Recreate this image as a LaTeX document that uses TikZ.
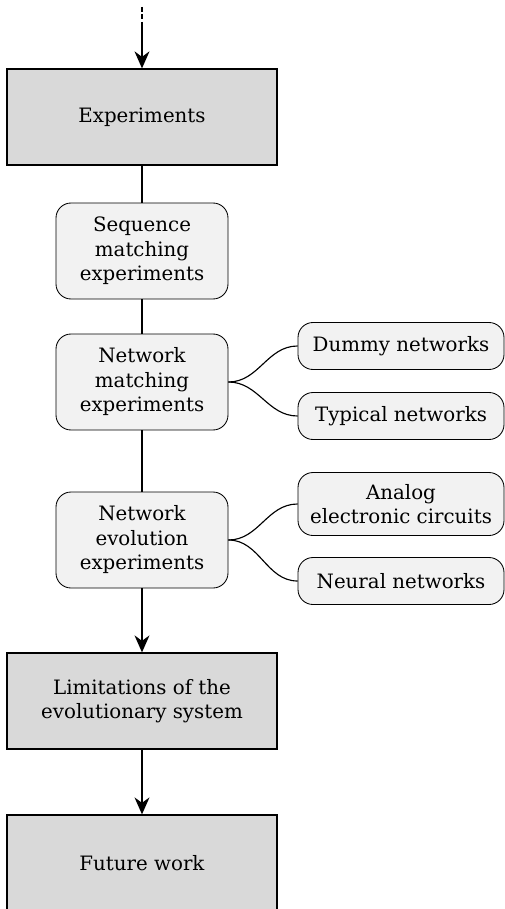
\documentclass[tikz,border=0pt]{standalone}
\usepackage{fontspec}
\setmainfont{DejaVu Serif}
\usetikzlibrary{arrows.meta}
\definecolor{boxgray}{HTML}{D9D9D9}
\definecolor{subgray}{HTML}{F2F2F2}
\begin{document}
\begin{tikzpicture}[x=1pt,y=-1pt,
    every node/.style={align=center,font=\fontsize{19.8}{24.5}\selectfont},
    mainbox/.style={draw,line width=.045cm,fill=boxgray,minimum width=270pt,minimum height=96pt},
    subbox/.style={draw,line width=.03cm,fill=subgray,rounded corners=15pt,minimum width=172pt,minimum height=96pt},
    leafbox/.style={draw,line width=.03cm,fill=subgray,rounded corners=15pt,minimum width=206pt,minimum height=47pt},
    flow/.style={line width=.045cm,-{Stealth[length=17pt,width=15pt]}},
    branch/.style={line width=.04cm,out=0,in=180}]
  \useasboundingbox (0,0) rectangle (505,909);
  \node[mainbox] (exp) at (142,117) {Experiments};
  \node[subbox] (seq) at (142,251) {Sequence\\matching\\experiments};
  \node[subbox] (nmatch) at (142,382) {Network\\matching\\experiments};
  \node[subbox] (nevol) at (142,540) {Network\\evolution\\experiments};
  \node[mainbox] (limit) at (142,701) {Limitations of the\\evolutionary system};
  \node[mainbox] (future) at (142,863) {Future work};
  \node[leafbox] (dummy) at (401,346) {Dummy networks};
  \node[leafbox] (typical) at (401,416) {Typical networks};
  \node[leafbox,minimum height=63pt] (analog) at (401,504) {Analog\\electronic circuits};
  \node[leafbox] (neural) at (401,581) {Neural networks};
  % incoming flow
  \coordinate (in0) at (142,7);
  \coordinate (in1) at (142,23);
  \draw[line width=.045cm,dash pattern=on 5pt off 2.5pt] (in0)--(in1);
  \draw[flow] (in1)--(exp.north);
  \draw[line width=.04cm] (exp)--(seq)--(nmatch)--(nevol);
  \draw[flow] (nevol)--(limit);
  \draw[flow] (limit)--(future);
  \draw[branch] (nmatch.east) to (dummy.west);
  \draw[branch] (nmatch.east) to (typical.west);
  \draw[branch] (nevol.east) to (analog.west);
  \draw[branch] (nevol.east) to (neural.west);
\end{tikzpicture}
\end{document}
